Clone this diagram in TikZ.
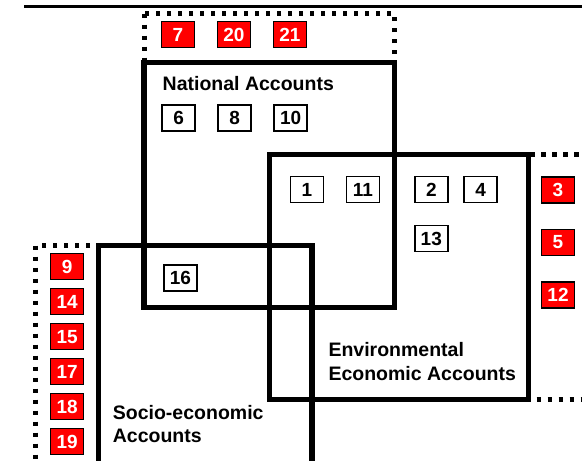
\documentclass[tikz,border=0pt]{standalone}
\usepackage{fontspec}
\setmainfont{Liberation Sans}
\usetikzlibrary{positioning}

\begin{document}
\begin{tikzpicture}[
    x=1pt, y=-1pt,
    node distance=21.5pt,
    numbox/.style={rectangle, draw, line width=1.5pt, fill=white, minimum width=33pt, minimum height=26pt, inner sep=0pt, font=\fontsize{19}{20}\selectfont\bfseries},
    redbox/.style={numbox, fill=red, text=white},
    area/.style={draw, line width=5.5pt},
    outside/.style={draw, line width=5pt, dash pattern=on 4.5pt off 6.5pt},
    label/.style={inner sep=0pt, align=left, font=\fontsize{19.5}{23.5}\selectfont\bfseries}
]
    \useasboundingbox (0,0) rectangle (582,461);
    \clip (0,0) rectangle (582,461);

    % Rule at the top
    \draw[line width=3pt] (24,6.5) -- (590,6.5);

    % Dotted groups outside the accounts
    \draw[outside] (144,13.5) rectangle (394.5,62.5);
    \draw[outside] (528.7,154.5) rectangle (600,399.7);
    \draw[outside] (35.5,245.5) rectangle (98.3,463);

    % The three accounts
    \draw[area] (144,62.5) rectangle (394.5,307.5);
    \draw[area] (269.7,154.5) rectangle (528.7,399.7);
    \draw[area] (98.3,245.3) rectangle (312,480);

    % Labels (base = last line)
    \node[label, anchor=base west] (national) at (162.5,90) {National Accounts};
    \node[label, anchor=base west] (environ) at (328.3,380) {Environmental\\Economic Accounts};
    \node[label, anchor=base west] (socio) at (112.7,442.7) {Socio-economic\\Accounts};

    % Top group
    \node[redbox] (r7) at (178,34.7) {7};
    \node[redbox, right=of r7] (r20) {20};
    \node[redbox, right=of r20] (r21) {21};

    % National Accounts
    \node[numbox] (n6) at (178.7,118) {6};
    \node[numbox, right=of n6] (n8) {8};
    \node[numbox, right=of n8] (n10) {10};

    % Environmental Economic Accounts
    \node[numbox] (n1) at (307,189.7) {1};
    \node[numbox, right=of n1] (n11) {11};
    \node[numbox] (n2) at (431.3,189.7) {2};
    \node[numbox, right=14.9pt of n2] (n4) {4};
    \node[numbox, below=of n2] (n13) {13};

    % Socio-economic Accounts
    \node[numbox] (n16) at (180.5,278) {16};

    % Right group
    \node[redbox] (r3) at (558,190) {3};
    \node[redbox, below=25pt of r3] (r5) {5};
    \node[redbox, below=25pt of r5] (r12) {12};

    % Left group
    \node[redbox] (r9) at (67.2,266.7) {9};
    \node[redbox, below=7.5pt of r9] (r14) {14};
    \node[redbox, below=7.5pt of r14] (r15) {15};
    \node[redbox, below=7.5pt of r15] (r17) {17};
    \node[redbox, below=7.5pt of r17] (r18) {18};
    \node[redbox, below=7.5pt of r18] (r19) {19};
\end{tikzpicture}
\end{document}
